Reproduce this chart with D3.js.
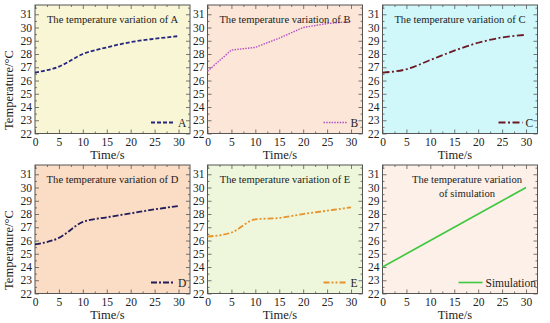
<!DOCTYPE html>
<html>
<head>
<meta charset="utf-8">
<script src="https://cdn.jsdelivr.net/npm/d3@7"></script>
<style>
  body { margin: 0; background: #fff; }
  svg text { font-family: "Liberation Serif", "Times New Roman", serif; fill: #222; }
</style>
</head>
<body>
<div id="chart"></div>
<script>
// data
const timeS = [0, 5, 10, 15, 20, 25, 30];
const tempA = [26.6, 27.05, 28.0, 28.5, 28.9, 29.15, 29.35];
const tempB = [26.7, 28.3, 28.5, 29.2, 30.0, 30.3, 30.45];
const tempC = [26.6, 26.85, 27.55, 28.25, 28.85, 29.25, 29.45];
const tempD = [25.7, 26.2, 27.4, 27.75, 28.05, 28.35, 28.6];
const tempE = [26.3, 26.6, 27.6, 27.7, 28.0, 28.25, 28.5];
const tempSim = [24, 25, 26, 27, 28, 29, 30];
const xTicks = [0, 5, 10, 15, 20, 25, 30];
const yTicks = [22, 23, 24, 25, 26, 27, 28, 29, 30, 31];

const width = 550, height = 323;
const svg = d3.select("#chart").append("svg")
    .attr("width", width)
    .attr("height", height);

const panels = [
    {name: "A", values: tempA, title: ["The temperature variation of A"], bg: "#f9f6d6", color: "#26267f", dash: "4,2", width: 1.8, curve: d3.curveMonotoneX, left: 35, top: 5, ylabel: true},
    {name: "B", values: tempB, title: ["The temperature variation of B"], bg: "#fbe6d8", color: "#b552c6", dash: "1.5,1.2", width: 1.4, curve: d3.curveLinear, left: 207.5, top: 5},
    {name: "C", values: tempC, title: ["The temperature variation of C"], bg: "#d0f8fb", color: "#6b1a24", dash: "7,2.5,2,2.5", width: 1.8, curve: d3.curveMonotoneX, left: 382.5, top: 5},
    {name: "D", values: tempD, title: ["The temperature variation of D"], bg: "#fbdcc4", color: "#221b5c", dash: "6,2,2,2", width: 1.8, curve: d3.curveMonotoneX, left: 35, top: 165, ylabel: true},
    {name: "E", values: tempE, title: ["The temperature variation of E"], bg: "#eef7dc", color: "#e8922a", dash: "6,2,2,2,2,2", width: 1.8, curve: d3.curveMonotoneX, left: 207.5, top: 165},
    {name: "Simulation", values: tempSim, title: ["The temperature variation", "of simulation"], bg: "#fdf0e8", color: "#3fc83f", dash: null, width: 1.6, curve: d3.curveLinear, left: 382.5, top: 165, titleShift: 7}
];

const pw = 155, ph = 128.5;
const serif = '"Liberation Serif", "Times New Roman", serif';

panels.forEach(p => {
    const g = svg.append("g");
    const x = d3.scaleLinear().domain([0, 32.4]).range([p.left, p.left + pw]);
    const y = d3.scaleLinear().domain([22, 31.7]).range([p.top + ph, p.top]);

    g.append("rect")
        .attr("x", p.left).attr("y", p.top)
        .attr("width", pw).attr("height", ph)
        .attr("fill", p.bg);

    // axes with inward ticks on all sides
    const minorX = d3.range(0, 32.5, 2.5).filter(v => v % 5 !== 0);
    const minorY = d3.range(22.5, 31.7, 1);

    const bottom = g.append("g").attr("transform", `translate(0,${p.top + ph})`)
        .call(d3.axisBottom(x).tickValues(xTicks).tickSize(-4).tickPadding(4).tickSizeOuter(0));
    bottom.append("g").call(d3.axisBottom(x).tickValues(minorX).tickSize(-2).tickFormat("").tickSizeOuter(0));
    const top = g.append("g").attr("transform", `translate(0,${p.top})`)
        .call(d3.axisTop(x).tickValues(xTicks).tickSize(-4).tickFormat("").tickSizeOuter(0));
    top.append("g").call(d3.axisTop(x).tickValues(minorX).tickSize(-2).tickFormat("").tickSizeOuter(0));

    const leftAx = g.append("g").attr("transform", `translate(${p.left},0)`)
        .call(d3.axisLeft(y).tickValues(yTicks).tickSize(-4).tickPadding(3).tickSizeOuter(0));
    leftAx.append("g").call(d3.axisLeft(y).tickValues(minorY).tickSize(-2).tickFormat("").tickSizeOuter(0));
    const rightAx = g.append("g").attr("transform", `translate(${p.left + pw},0)`)
        .call(d3.axisRight(y).tickValues(yTicks).tickSize(-4).tickFormat("").tickSizeOuter(0));
    rightAx.append("g").call(d3.axisRight(y).tickValues(minorY).tickSize(-2).tickFormat("").tickSizeOuter(0));

    g.selectAll(".domain").remove();
    g.selectAll(".tick line").attr("stroke", "#555").attr("stroke-width", 0.8);
    g.selectAll(".tick text")
        .style("font-family", serif)
        .style("font-size", "11.5px")
        .attr("fill", "#222");

    g.append("rect")
        .attr("x", p.left).attr("y", p.top)
        .attr("width", pw).attr("height", ph)
        .attr("fill", "none").attr("stroke", "#555").attr("stroke-width", 1);

    // series line
    const line = d3.line()
        .x((d, i) => x(timeS[i]))
        .y(d => y(d))
        .curve(p.curve);

    g.append("path")
        .datum(p.values)
        .attr("d", line)
        .attr("fill", "none")
        .attr("stroke", p.color)
        .attr("stroke-width", p.width)
        .attr("stroke-dasharray", p.dash);

    // title
    const cx = p.left + pw / 2 + (p.titleShift || 0);
    p.title.forEach((t, i) => {
        g.append("text")
            .attr("x", cx)
            .attr("y", p.top + 18 + i * 14)
            .attr("text-anchor", "middle")
            .style("font-size", "10.6px")
            .text(t);
    });

    // legend
    const legY = p.top + ph - 11;
    const legEnd = p.name.length > 1 ? p.left + pw - 55 : p.left + pw - 15;
    g.append("line")
        .attr("x1", legEnd - 24).attr("x2", legEnd)
        .attr("y1", legY).attr("y2", legY)
        .attr("stroke", p.color)
        .attr("stroke-width", p.width)
        .attr("stroke-dasharray", p.dash);
    g.append("text")
        .attr("x", legEnd + 3)
        .attr("y", legY + 4)
        .style("font-size", "11.5px")
        .text(p.name);

    // axis titles
    g.append("text")
        .attr("x", p.left + pw / 2 - 5)
        .attr("y", p.top + ph + 25)
        .attr("text-anchor", "middle")
        .style("font-size", "12.5px")
        .text("Time/s");

    if (p.ylabel) {
        g.append("text")
            .attr("transform", `translate(13,${p.top + 85}) rotate(-90)`)
            .attr("text-anchor", "middle")
            .style("font-size", "12.5px")
            .text("Temperature/°C");
    }
});
</script>
</body>
</html>
